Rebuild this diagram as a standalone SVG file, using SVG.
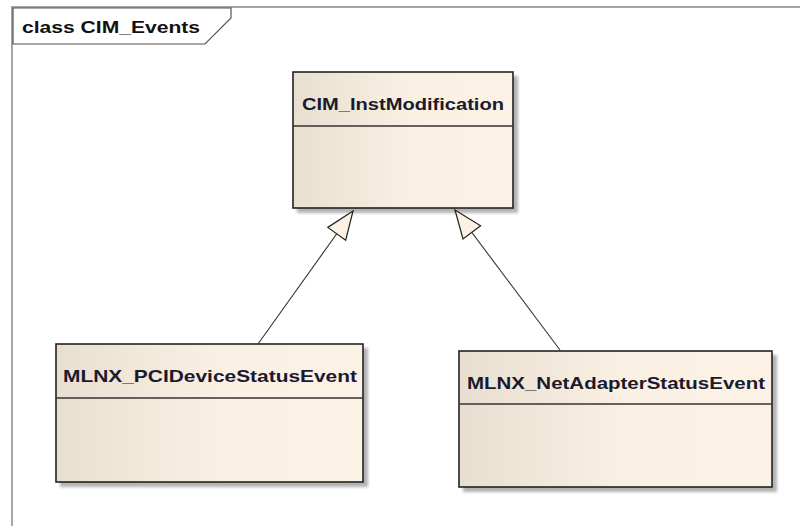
<svg xmlns="http://www.w3.org/2000/svg" width="800" height="526" viewBox="0 0 800 526">
  <defs>
    <linearGradient id="classFill" x1="0" y1="0" x2="1" y2="0">
      <stop offset="0" stop-color="#e9dfd1"/>
      <stop offset="0.55" stop-color="#faf0e3"/>
      <stop offset="1" stop-color="#fbf1e4"/>
    </linearGradient>
    <filter id="shadow" x="-10%" y="-10%" width="130%" height="130%">
      <feGaussianBlur stdDeviation="1.5"/>
    </filter>
    <!-- hollow triangle for generalization, tip at the path end -->
    <marker id="generalization" viewBox="0 0 32 26" refX="30" refY="13" markerWidth="32" markerHeight="26" markerUnits="userSpaceOnUse" orient="auto">
      <path d="M30,13 L2,2 L2,24 Z" fill="#fbf1e4" stroke="#222" stroke-width="1.2" stroke-linejoin="miter"/>
    </marker>
  </defs>
  <style>
    .frame { fill: none; stroke: #a6a6a6; stroke-width: 2; }
    .tab { fill: #ffffff; stroke: #555555; stroke-width: 1.2; }
    .title { font-family: "Liberation Sans", Arial, sans-serif; font-weight: bold; font-size: 16px; fill: #111; }
    .box { fill: url(#classFill); stroke: #222; stroke-width: 1.6; }
    .shade { fill: #9a9a9a; opacity: 0.75; filter: url(#shadow); }
    .divider { stroke: #333; stroke-width: 1.6; }
    .name { font-family: "Liberation Sans", Arial, sans-serif; font-weight: bold; font-size: 17px; fill: #1a1a2e; text-anchor: middle; }
    .link { fill: none; stroke: #333; stroke-width: 1.1; }
  </style>

  <rect width="800" height="526" fill="#ffffff"/>

  <!-- package frame -->
  <g id="frame">
    <path class="frame" d="M12,526 V7 H800"/>
    <path class="tab" d="M13,8 H231 V18 L205,44 H13 Z"/>
    <text class="title" x="22" y="33" textLength="178" lengthAdjust="spacingAndGlyphs">class CIM_Events</text>
  </g>

  <g id="CIM_InstModification">
    <rect class="shade" x="297" y="76" width="221" height="137"/>
    <rect class="box" x="293" y="72" width="220" height="136"/>
    <line class="divider" x1="293" y1="126" x2="513" y2="126"/>
    <text class="name" x="403" y="110" textLength="202" lengthAdjust="spacingAndGlyphs">CIM_InstModification</text>
  </g>

  <g id="MLNX_PCIDeviceStatusEvent">
    <rect class="shade" x="60" y="348" width="308" height="139"/>
    <rect class="box" x="56" y="344" width="307" height="138"/>
    <line class="divider" x1="56" y1="398" x2="363" y2="398"/>
    <text class="name" x="210" y="382" textLength="294" lengthAdjust="spacingAndGlyphs">MLNX_PCIDeviceStatusEvent</text>
  </g>

  <g id="MLNX_NetAdapterStatusEvent">
    <rect class="shade" x="463" y="355" width="314" height="137"/>
    <rect class="box" x="459" y="351" width="313" height="136"/>
    <line class="divider" x1="459" y1="404" x2="772" y2="404"/>
    <text class="name" x="616" y="389" textLength="298" lengthAdjust="spacingAndGlyphs">MLNX_NetAdapterStatusEvent</text>
  </g>

  <!-- generalization connectors -->
  <g id="connectors">
    <line class="link" x1="258" y1="344" x2="353" y2="211" marker-end="url(#generalization)"/>
    <line class="link" x1="560" y1="350" x2="455" y2="210" marker-end="url(#generalization)"/>
  </g>
</svg>
